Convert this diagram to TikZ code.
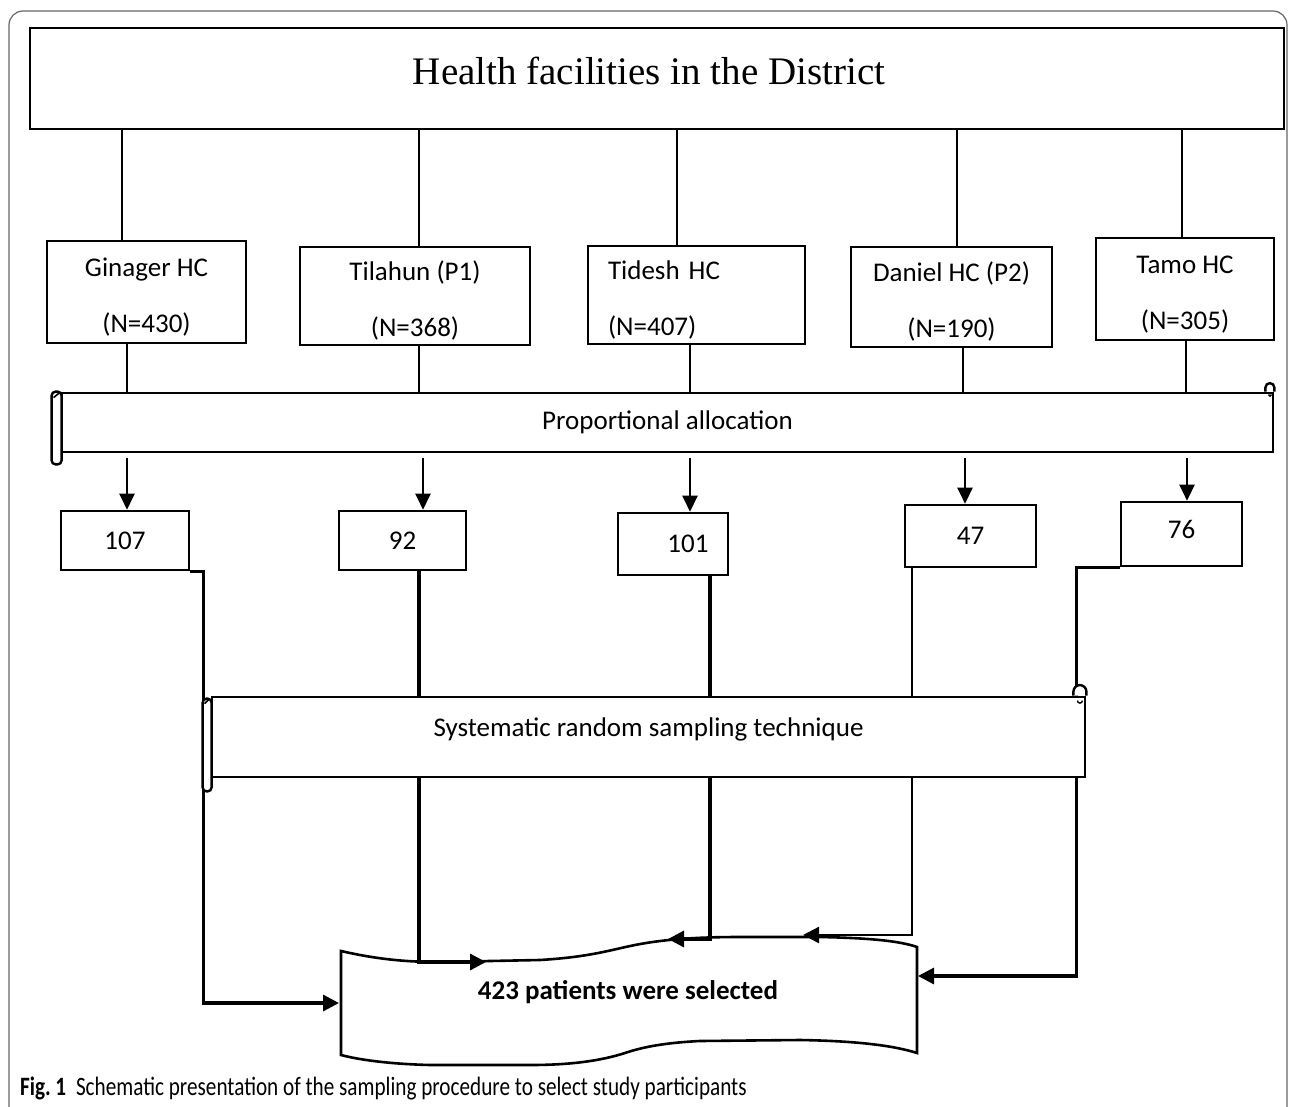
\documentclass[tikz,border=0pt]{standalone}
\usepackage{fontspec}
\setmainfont{Carlito}
\newfontfamily\titlefont{Liberation Serif}
\newfontfamily\capfont[FakeStretch=0.8]{Carlito}
\usetikzlibrary{arrows.meta}

\newcommand{\hcstrut}{\rule{0pt}{28pt}}

\begin{document}
\begin{tikzpicture}[x=1pt,y=-1pt,
    hcbox/.style={draw,line width=2.6pt,align=center,font=\fontsize{27}{32}\selectfont},
    numbox/.style={draw,line width=2.6pt,font=\fontsize{27}{32}\selectfont},
    barbox/.style={draw,fill=white,line width=2.8pt,font=\fontsize{27}{32}\selectfont},
    thinline/.style={line width=1.3pt},
    downarrow/.style={line width=2.4pt,-{Triangle[length=16pt,width=15pt]}},
    sidearrow/.style={line width=3.2pt,-{Triangle[length=16pt,width=16pt]}}]
    \useasboundingbox (0,0) rectangle (1295,1107);
    \draw[line width=1.2pt,gray!80!black,rounded corners=14pt] (9,1110) -- (9,11) -- (1287,11) -- (1287,1110);

    \node[draw,line width=2.6pt,minimum width=1254pt,minimum height=101pt,text depth=16pt,font=\titlefont\fontsize{39}{44}\selectfont] (district) at (657,78.5) {\hspace*{-16pt}Health facilities in the District};

    \node[hcbox,minimum width=199pt,minimum height=102pt] (ginager) at (146.5,292) {\hcstrut Ginager HC\\[24pt](N=430)};
    \node[hcbox,minimum width=230pt,minimum height=98pt] (tilahun) at (415,296) {\hcstrut Tilahun (P1)\\[24pt](N=368)};
    \node[hcbox,align=left,text width=177pt,inner xsep=20pt,minimum height=98pt] (tidesh) at (696.5,295) {\hcstrut Tidesh HC\\[24pt](N=407)};
    \node[hcbox,minimum width=201pt,minimum height=100pt] (daniel) at (951.5,297) {\hcstrut Daniel HC (P2)\\[24pt](N=190)};
    \node[hcbox,minimum width=178pt,minimum height=102pt] (tamo) at (1185,289) {\hcstrut Tamo HC\\[24pt](N=305)};

    \node[barbox,minimum width=1211pt,minimum height=59pt] (propbar) at (667.5,422.5) {Proportional allocation};
    \draw[line width=2.4pt,rounded corners=4pt,fill=white] ([xshift=-9pt]propbar.north west) rectangle ([xshift=1pt,yshift=-11pt]propbar.south west);
    \draw[line width=1.6pt] ([xshift=-7pt,yshift=-6pt]propbar.north west) -- ([xshift=-1pt,yshift=-1pt]propbar.north west);
    \draw[line width=2.4pt] ([xshift=-9pt]propbar.north east) -- ++(0,-4) arc[start angle=180,end angle=0,radius=4.5pt] -- (propbar.north east);
    \draw[line width=1.4pt] ([xshift=-6pt,yshift=-3pt]propbar.north east) arc[start angle=180,end angle=360,radius=1.5pt];

    % connectors from the top box down to the bar
    \foreach \hc/\up/\dn in {ginager/-24.5/-19.5, tilahun/4/4, tidesh/-19.5/-6.5, daniel/5.5/11.5, tamo/-3/1} {
        \draw[thinline] ([xshift=\up pt]\hc.north) -- ([xshift=\up pt]\hc.north |- district.south);
        \draw[thinline] ([xshift=\dn pt]\hc.south) -- ([xshift=\dn pt]\hc.south |- propbar.north);
    }

    \node[numbox,minimum width=128pt,minimum height=59pt] (n107) at (125,540.5) {107};
    \node[numbox,minimum width=127pt,minimum height=59pt] (n92) at (402.5,540.5) {92};
    \node[numbox,minimum width=110pt,minimum height=62pt] (n101) at (673,544) {\hspace*{30pt}101};
    \node[numbox,minimum width=131pt,minimum height=62pt] (n47) at (970.5,536) {47};
    \node[numbox,minimum width=121pt,minimum height=64pt,text depth=10pt] (n76) at (1181.5,534) {76};

    \foreach \nb/\dx in {n107/2, n92/20.5, n101/17, n47/-5.5, n76/5.5}
        \draw[downarrow,shorten <=5pt] ([xshift=\dx pt]\nb.north |- propbar.south) -- ([xshift=\dx pt]\nb.north);

    % the selected patients shape
    \draw[line width=2.6pt,fill=white] (341,951) .. controls (380,960) and (410,962) .. (440,962)
        -- (540,960) .. controls (590,957) and (610,950) .. (635,945)
        .. controls (665,939) and (700,937) .. (740,937) -- (820,937)
        .. controls (870,938) and (900,941) .. (917,947) -- (917,1053)
        .. controls (895,1046) and (860,1041) .. (800,1040) -- (700,1041)
        .. controls (660,1043) and (640,1048) .. (625,1053)
        .. controls (600,1061) and (570,1065) .. (530,1065) -- (430,1065)
        .. controls (390,1064) and (360,1060) .. (341,1055) -- cycle;
    \node[font=\bfseries\fontsize{27}{32}\selectfont] (selected) at (628,992) {423 patients were selected};

    \coordinate (w107) at (339,1003);
    \coordinate (w92) at (486,962);
    \coordinate (w101) at (668,939);
    \coordinate (w47) at (803,935);
    \coordinate (w76) at (918,976);

    \draw[sidearrow] (n107.south east) -- ++(13,0) |- (w107);
    \draw[sidearrow] ([xshift=16.5pt]n92.south) |- (w92);
    \draw[sidearrow] ([xshift=37pt]n101.south) |- (w101);
    \draw[sidearrow,line width=2.4pt] ([xshift=8pt]n47.south west) |- (w47);
    \draw[sidearrow] (n76.south west) -- ++(-43,0) |- (w76);

    \node[barbox,minimum width=873pt,minimum height=80pt,text depth=20pt] (sysbar) at (648.5,737) {Systematic random sampling technique};
    \draw[line width=2.4pt,rounded corners=4pt,fill=white] ([xshift=-8pt,yshift=-3pt]sysbar.north west) rectangle ([xshift=1pt,yshift=-13pt]sysbar.south west);
    \draw[line width=1.6pt] ([xshift=-6pt,yshift=-8pt]sysbar.north west) -- ([xshift=-1pt,yshift=-3pt]sysbar.north west);
    \draw[line width=2.4pt,fill=white] ([xshift=-13pt]sysbar.north east) -- ++(0,-4) arc[start angle=180,end angle=0,radius=6.5pt] -- (sysbar.north east);
    \draw[line width=1.4pt] ([xshift=-9pt,yshift=-5pt]sysbar.north east) arc[start angle=180,end angle=360,radius=2.5pt];

    \node[anchor=west,inner sep=0pt,font=\capfont\fontsize{26.5}{30}\selectfont] (caption) at (20,1088) {\textbf{Fig.\,1}\hspace{10pt}Schematic presentation of the sampling procedure to select study participants};
\end{tikzpicture}
\end{document}
